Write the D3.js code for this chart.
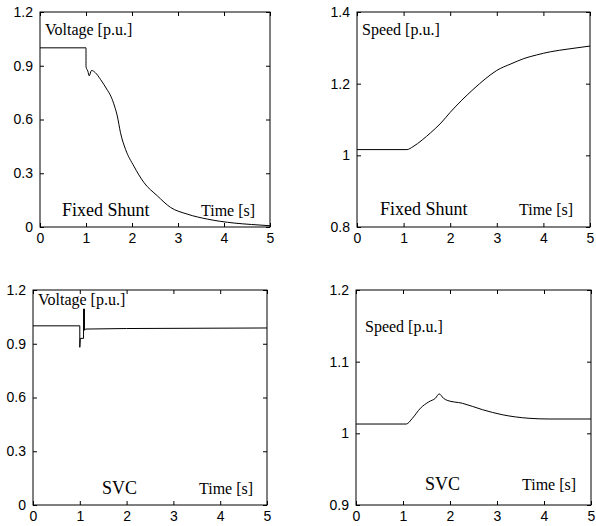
<!DOCTYPE html>
<html>
<head>
<meta charset="utf-8">
<script src="https://cdn.jsdelivr.net/npm/d3@7"></script>
<style>
  body { margin: 0; background: #fff; }
  .tick text { font-family: "Liberation Sans", Arial, sans-serif; font-size: 14px; fill: #000; }
  .note { font-family: "Liberation Serif", "Times New Roman", serif; fill: #000; }
</style>
</head>
<body>
<svg id="chart"></svg>
<script>
// time axis ticks shared by all panels
const timeTicks = [0, 1, 2, 3, 4, 5];

// Fixed shunt - voltage
const shuntVoltT = [0, 1.0, 1.0, 1.04, 1.07, 1.12, 1.2, 1.32, 1.45, 1.54, 1.62, 1.68, 1.75, 1.86, 2.04, 2.26, 2.55, 2.84, 3.2, 3.64, 4.22, 4.6, 5];
const shuntVoltV = [1.0, 1.0, 0.895, 0.87, 0.844, 0.874, 0.862, 0.822, 0.77, 0.73, 0.675, 0.62, 0.526, 0.433, 0.34, 0.248, 0.174, 0.109, 0.072, 0.044, 0.022, 0.014, 0.007];
const voltTicks = [0, 0.3, 0.6, 0.9, 1.2];

// Fixed shunt - speed
const shuntSpeedT = [0, 1.07, 1.2, 1.4, 1.58, 1.8, 2.0, 2.25, 2.51, 2.75, 3.0, 3.3, 3.58, 3.85, 4.15, 4.55, 5];
const shuntSpeedV = [1.016, 1.016, 1.024, 1.043, 1.063, 1.09, 1.12, 1.154, 1.186, 1.213, 1.237, 1.255, 1.27, 1.28, 1.289, 1.297, 1.305];
const shuntSpeedTicks = [0.8, 1, 1.2, 1.4];

// SVC - voltage
const svcVoltT = [0, 1.0, 1.0, 1.01, 1.08, 1.08, 1.1, 1.1, 1.12, 2.0, 5];
const svcVoltV = [1.0, 1.0, 0.88, 0.93, 0.93, 1.094, 1.094, 0.975, 0.982, 0.985, 0.988];

// SVC - speed
const svcSpeedT = [0, 1.07, 1.2, 1.37, 1.55, 1.69, 1.77, 1.86, 1.94, 2.26, 2.69, 3.11, 3.68, 4.11, 5];
const svcSpeedV = [1.013, 1.013, 1.021, 1.035, 1.044, 1.049, 1.055, 1.049, 1.046, 1.042, 1.033, 1.026, 1.021, 1.02, 1.02];
const svcSpeedTicks = [0.9, 1, 1.1, 1.2];

const panels = [
  { box: [40, 12, 270, 227], t: shuntVoltT, v: shuntVoltV, yDom: [0, 1.2], yTicks: voltTicks, curve: d3.curveMonotoneX,
    notes: [["Voltage [p.u.]", 45, 35, 16], ["Fixed Shunt", 62, 216, 18], ["Time [s]", 201, 216, 16]] },
  { box: [357, 12, 590, 227], t: shuntSpeedT, v: shuntSpeedV, yDom: [0.8, 1.4], yTicks: shuntSpeedTicks, curve: d3.curveMonotoneX,
    notes: [["Speed [p.u.]", 362, 35, 16], ["Fixed Shunt", 380, 215, 18], ["Time [s]", 519, 215, 16]] },
  { box: [33, 290, 267, 505], t: svcVoltT, v: svcVoltV, yDom: [0, 1.2], yTicks: voltTicks, curve: d3.curveLinear,
    notes: [["Voltage [p.u.]", 38, 305, 16], ["SVC", 102, 494, 18], ["Time [s]", 199, 494, 16]] },
  { box: [356, 290, 591, 505], t: svcSpeedT, v: svcSpeedV, yDom: [0.9, 1.2], yTicks: svcSpeedTicks, curve: d3.curveMonotoneX,
    notes: [["Speed [p.u.]", 365, 332, 16], ["SVC", 425, 490, 18], ["Time [s]", 522, 490, 16]] }
];

const svg = d3.select("#chart").attr("width", 596).attr("height", 526);
const fmt = d3.format("~g");

panels.forEach(p => {
  const [x0, y0, x1, y1] = p.box;
  const x = d3.scaleLinear().domain([0, 5]).range([x0, x1]);
  const y = d3.scaleLinear().domain(p.yDom).range([y1, y0]);

  // ticks on all four sides, pointing inward
  svg.append("g").attr("transform", `translate(0,${y1})`)
     .call(d3.axisBottom(x).tickValues(timeTicks).tickSizeInner(-4).tickSizeOuter(0).tickPadding(6).tickFormat(fmt));
  svg.append("g").attr("transform", `translate(0,${y0})`)
     .call(d3.axisTop(x).tickValues(timeTicks).tickSizeInner(-4).tickSizeOuter(0).tickFormat(""));
  svg.append("g").attr("transform", `translate(${x0},0)`)
     .call(d3.axisLeft(y).tickValues(p.yTicks).tickSizeInner(-4).tickSizeOuter(0).tickPadding(7).tickFormat(fmt));
  svg.append("g").attr("transform", `translate(${x1},0)`)
     .call(d3.axisRight(y).tickValues(p.yTicks).tickSizeInner(-4).tickSizeOuter(0).tickFormat(""));
  svg.selectAll(".domain").remove();
  svg.selectAll(".tick line").attr("stroke", "#000");

  svg.append("rect")
     .attr("x", x0).attr("y", y0).attr("width", x1 - x0).attr("height", y1 - y0)
     .attr("fill", "none").attr("stroke", "#000").attr("stroke-width", 1);

  const pts = p.t.map((t, i) => [t, p.v[i]]);
  svg.append("path")
     .datum(pts)
     .attr("fill", "none").attr("stroke", "#000").attr("stroke-width", 1)
     .attr("d", d3.line().x(d => x(d[0])).y(d => y(d[1])).curve(p.curve));

  svg.selectAll(null).data(p.notes).enter().append("text")
     .attr("class", "note")
     .attr("x", d => d[1]).attr("y", d => d[2])
     .style("font-size", d => d[3] + "px")
     .text(d => d[0]);
});
</script>
</body>
</html>
